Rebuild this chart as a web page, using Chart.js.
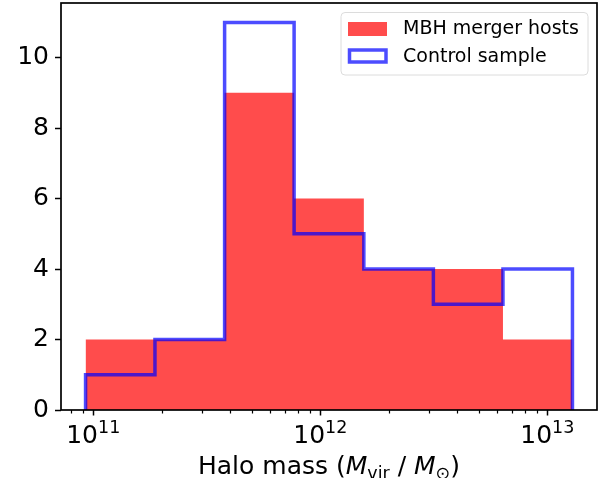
<!DOCTYPE html>
<html>
<head>
<meta charset="utf-8">
<script src="https://cdn.jsdelivr.net/npm/chart.js@4.4.1/dist/chart.umd.min.js"></script>
<style>
  html, body { margin: 0; padding: 0; background: #ffffff; }
  #wrap { width: 608px; height: 478px; }
</style>
</head>
<body>
<div id="wrap"><canvas id="c" width="608" height="478"></canvas></div>
<script>
// ---- data ----
const massBinEdges = [9.25e10, 1.87e11, 3.79e11, 7.67e11, 1.556e12, 3.15e12, 6.38e12, 1.291e13];
const hostCounts = [2, 2, 9, 6, 4, 4, 2];
const controlCounts = [1, 2, 11, 5, 4, 3, 4];
const seriesLabels = ['MBH merger hosts', 'Control sample'];
const yTickValues = [0, 2, 4, 6, 8, 10];
const xTickExponents = [11, 12, 13];
const xMinorMultipliers = [2, 3, 4, 5, 6, 7, 8, 9];
const xTitleParts = [
  { text: 'Halo mass (', style: 'normal' },
  { text: 'M', style: 'italic' },
  { text: 'vir', style: 'sub' },
  { text: ' / ', style: 'normal' },
  { text: 'M', style: 'italic' },
  { text: '\u2299', style: 'sub' },
  { text: ')', style: 'normal' }
];

// ---- build step-histogram point lists ----
const nBins = hostCounts.length;
const hostPoints = massBinEdges.map((e, i) => ({ x: e, y: hostCounts[Math.min(i, nBins - 1)] }));
const controlPoints = [{ x: massBinEdges[0], y: 0 }]
  .concat(controlCounts.map((v, i) => ({ x: massBinEdges[i], y: v })))
  .concat([{ x: massBinEdges[nBins], y: 0 }]);

const FONT = "'DejaVu Sans', sans-serif";
const RED = 'rgba(255,0,0,0.7)';
const BLUE = 'rgba(0,0,255,0.7)';
const FS = 25;

const decorPlugin = {
  id: 'decor',
  afterDatasetsDraw(chart) {
    const ctx = chart.ctx;
    const a = chart.chartArea;
    const xs = chart.scales.x;
    ctx.save();
    // frame
    ctx.strokeStyle = '#000';
    ctx.lineWidth = 1.7;
    ctx.strokeRect(a.left, a.top, a.right - a.left, a.bottom - a.top);

    // minor x ticks
    ctx.lineWidth = 1.2;
    ctx.beginPath();
    for (let p = 10; p <= 13; p++) {
      xMinorMultipliers.forEach(m => {
        const v = m * Math.pow(10, p);
        if (v > xs.min && v < xs.max) {
          const px = Math.round(xs.getPixelForValue(v)) + 0.5;
          ctx.moveTo(px, a.bottom);
          ctx.lineTo(px, a.bottom + 3.5);
        }
      });
    }
    ctx.stroke();

    // x tick labels 10^n
    ctx.fillStyle = '#000';
    ctx.textBaseline = 'alphabetic';
    ctx.textAlign = 'left';
    xTickExponents.forEach(ex => {
      const px = xs.getPixelForValue(Math.pow(10, ex));
      ctx.font = FS + 'px ' + FONT;
      const wb = ctx.measureText('10').width;
      ctx.font = '17.5px ' + FONT;
      const we = ctx.measureText(String(ex)).width;
      const x0 = px - (wb + we) / 2;
      ctx.font = FS + 'px ' + FONT;
      ctx.fillText('10', x0, 443);
      ctx.font = '17.5px ' + FONT;
      ctx.fillText(String(ex), x0 + wb, 433);
    });

    // x axis title with math-like parts
    const fontFor = s => s === 'italic' ? 'italic ' + FS + 'px ' + FONT : (s === 'sub' ? '17.5px ' + FONT : FS + 'px ' + FONT);
    let total = 0;
    xTitleParts.forEach(pt => { ctx.font = fontFor(pt.style); total += ctx.measureText(pt.text).width; });
    let x = (a.left + a.right) / 2 - total / 2;
    const base = 473.5;
    xTitleParts.forEach(pt => {
      ctx.font = fontFor(pt.style);
      ctx.fillText(pt.text, x, pt.style === 'sub' ? base + 5 : base);
      x += ctx.measureText(pt.text).width;
    });

    // legend
    const lx = 341, ly = 12.5, lw = 247, lh = 62.5, r = 4;
    ctx.beginPath();
    ctx.moveTo(lx + r, ly);
    ctx.arcTo(lx + lw, ly, lx + lw, ly + lh, r);
    ctx.arcTo(lx + lw, ly + lh, lx, ly + lh, r);
    ctx.arcTo(lx, ly + lh, lx, ly, r);
    ctx.arcTo(lx, ly, lx + lw, ly, r);
    ctx.closePath();
    ctx.fillStyle = 'rgba(255,255,255,0.8)';
    ctx.fill();
    ctx.strokeStyle = '#dcdcdc';
    ctx.lineWidth = 1;
    ctx.stroke();

    const dsHost = chart.data.datasets[0];
    const dsCtrl = chart.data.datasets[1];
    ctx.fillStyle = dsHost.backgroundColor;
    ctx.fillRect(348, 22, 39, 14);
    ctx.strokeStyle = dsCtrl.borderColor;
    ctx.lineWidth = 3.5;
    ctx.strokeRect(349.5, 50, 36.5, 12);

    ctx.fillStyle = '#000';
    ctx.font = '19px ' + FONT;
    ctx.textBaseline = 'middle';
    ctx.fillText(dsHost.label, 403, 29);
    ctx.fillText(dsCtrl.label, 403, 57);
    ctx.restore();
  }
};

new Chart(document.getElementById('c'), {
  type: 'line',
  data: {
    datasets: [
      {
        label: seriesLabels[0],
        data: hostPoints,
        stepped: true,
        fill: 'origin',
        backgroundColor: RED,
        borderColor: 'rgba(0,0,0,0)',
        borderWidth: 0,
        pointRadius: 0,
        order: 2
      },
      {
        label: seriesLabels[1],
        data: controlPoints,
        stepped: true,
        fill: false,
        borderColor: BLUE,
        borderWidth: 3.5,
        borderJoinStyle: 'miter',
        borderCapStyle: 'butt',
        pointRadius: 0,
        order: 1
      }
    ]
  },
  options: {
    responsive: false,
    animation: false,
    devicePixelRatio: 1,
    layout: { padding: { left: 0, top: 3, right: 11, bottom: 0 } },
    plugins: { legend: { display: false }, tooltip: { enabled: false } },
    scales: {
      x: {
        type: 'logarithmic',
        min: 7.21e10,
        max: 1.656e13,
        afterBuildTicks: s => { s.ticks = xTickExponents.map(e => ({ value: Math.pow(10, e) })); },
        afterFit: s => { s.height = 68; s.paddingLeft = 0; s.paddingRight = 0; s.paddingTop = 0; s.paddingBottom = 0; },
        ticks: { callback: () => '', font: { size: FS, family: FONT } },
        grid: { drawOnChartArea: false, drawTicks: true, tickLength: 5.5, tickColor: '#000', tickWidth: 1.5 },
        border: { display: false }
      },
      y: {
        type: 'linear',
        min: 0,
        max: 11.55,
        afterBuildTicks: s => { s.ticks = yTickValues.map(v => ({ value: v })); },
        afterFit: s => { s.width = 61; s.paddingTop = 0; s.paddingBottom = 0; s.paddingLeft = 0; s.paddingRight = 0; },
        ticks: { color: '#000', font: { size: FS, family: FONT }, padding: 6, callback: v => String(v) },
        grid: { drawOnChartArea: false, drawTicks: true, tickLength: 6, tickColor: '#000', tickWidth: 1.5 },
        border: { display: false }
      }
    }
  },
  plugins: [decorPlugin]
});
</script>
</body>
</html>
